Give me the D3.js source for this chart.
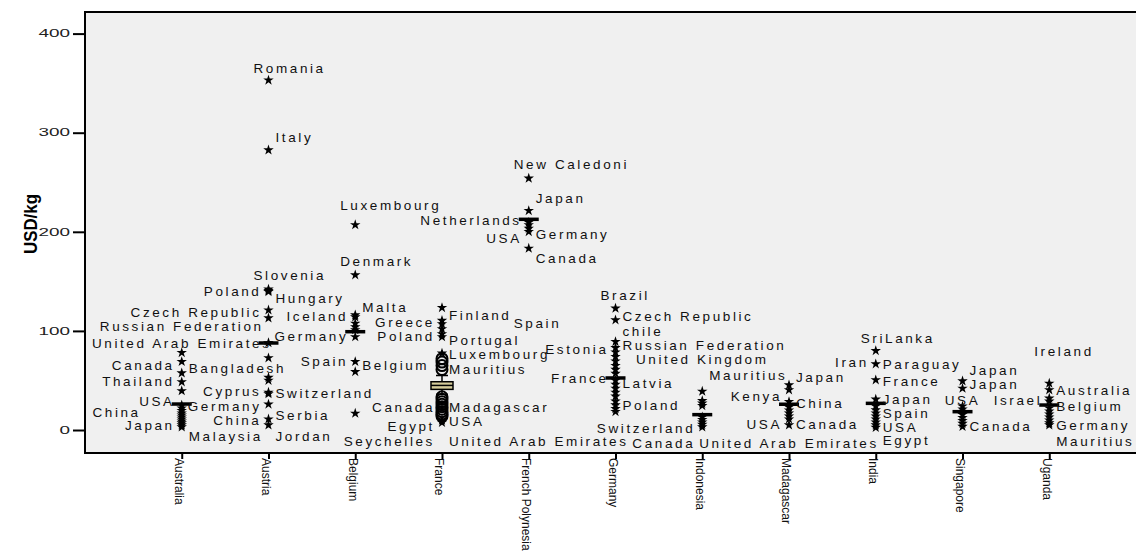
<!DOCTYPE html>
<html><head><meta charset="utf-8">
<script src="https://cdn.jsdelivr.net/npm/d3@7"></script>
<style>body{margin:0;background:#fff} svg{display:block}</style>
</head><body><svg id="c" width="1136" height="552"></svg>
<script>
const categories = ["Australia","Austria","Belgium","France","French Polynesia","Germany","Indonesia","Madagascar","India","Singapore","Uganda"];
const yTicks = [0,100,200,300,400];
const yTitle = "USD/kg";

// box statistics per category
const boxQ1      = [26.2, 87.8, 99.2, 41.0, 212.6, 52.5, 15.5, 26.0, 26.9, 18.5, 25.2];
const boxMedian  = [26.2, 87.8, 99.2, 45.0, 212.6, 52.5, 15.5, 26.0, 26.9, 18.5, 25.2];
const boxQ3      = [26.2, 87.8, 99.2, 48.7, 212.6, 52.5, 15.5, 26.0, 26.9, 18.5, 25.2];
const whiskerLow = [26.2, 87.8, 99.2, 36.0, 212.6, 52.5, 15.5, 26.0, 26.9, 18.5, 25.2];
const whiskerHigh= [26.2, 87.8, 99.2, 55.0, 212.6, 52.5, 15.5, 26.0, 26.9, 18.5, 25.2];

// outliers (circles)
const outliersFrance = [72, 68.5, 65, 61, 33.5, 31, 28.5, 26, 23.5, 21, 18.5, 16, 14];

// extremes (stars) per category
const extAustralia = [78, 69, 57.5, 48.5, 39.5, 25, 22, 19.5, 17, 15, 13, 11, 9, 7, 5, 3];
const extAustria   = [353, 282.5, 142, 140.5, 139.5, 121, 113, 88, 72.7, 53, 50, 38, 36.5, 26, 11, 5];
const extBelgium   = [207, 156.4, 116, 114, 107.6, 104, 101, 94, 69, 58.8, 16.8];
const extFrance    = [123.4, 110.5, 107, 102, 97, 94, 77.4, 10, 7.5];
const extFrPoly    = [254, 221.3, 209.5, 206.9, 203.5, 200.1, 183.3];
const extGermany   = [122.8, 111, 89.1, 83, 78.5, 74, 69.5, 65, 61, 57, 50, 46, 42, 38, 34, 29, 25.2, 21.5, 18.5];
const extIndonesia = [39, 29.5, 27, 24.5, 13, 10.5, 8, 5.5, 3];
const extMadagascar= [45.4, 40.4, 28.6, 23, 20, 17, 14, 11, 5];
const extIndia     = [80, 66.6, 50.5, 31, 24, 20.2, 17, 14, 11, 8, 5, 2.5];
const extSingapore = [49.4, 42, 24, 21, 15.5, 12.5, 9.5, 6.5, 3.5];
const extUganda    = [47.1, 40.4, 32, 29, 22, 19, 16, 13, 10, 7, 5];

// point labels: [text, category, value at label, side]
const pointLabels = [
 ["Russian Federation","Australia",104.2,"C"],
 ["United Arab Emirates","Australia",87.5,"C"],
 ["Canada","Australia",65.6,"L"],
 ["Bangladesh","Australia",62.3,"R"],
 ["Thailand","Australia",48.7,"L"],
 ["USA","Australia",28.6,"L"],
 ["China","Australia",17.8,"LL"],
 ["Japan","Australia",5,"L"],
 ["Malaysia","Australia",-6.7,"R"],
 ["Romania","Austria",365,"T"],
 ["Italy","Austria",295.3,"R"],
 ["Slovenia","Austria",155.7,"T"],
 ["Poland","Austria",139.6,"L"],
 ["Hungary","Austria",132.9,"R"],
 ["Czech Republic","Austria",118.4,"L"],
 ["Cyprus","Austria",38.7,"L"],
 ["Switzerland","Austria",37,"R"],
 ["Germany","Austria",24,"L"],
 ["Serbia","Austria",15.1,"R"],
 ["China","Austria",9.5,"L"],
 ["Jordan","Austria",-6.7,"R"],
 ["Luxembourg","Belgium",227,"T"],
 ["Denmark","Belgium",169.8,"T"],
 ["Malta","Belgium",123.4,"R"],
 ["Iceland","Belgium",115,"L"],
 ["Germany","Belgium",94.9,"L"],
 ["Spain","Belgium",69,"L"],
 ["Belgium","Belgium",65.6,"R"],
 ["Finland","France",116,"R"],
 ["Greece","France",108.3,"L"],
 ["Poland","France",94.9,"L"],
 ["Portugal","France",90.8,"R"],
 ["Luxembourg","France",76.7,"R"],
 ["Mauritius","France",61.3,"R"],
 ["Canada","France",22.5,"L"],
 ["Madagascar","France",22.5,"R"],
 ["USA","France",8.4,"R"],
 ["Egypt","France",3.4,"L"],
 ["Seychelles","France",-11,"L"],
 ["United Arab Emirates","France",-11,"R"],
 ["New Caledoni","French Polynesia",268,"T"],
 ["Japan","French Polynesia",233.8,"R"],
 ["Netherlands","French Polynesia",212,"L"],
 ["Germany","French Polynesia",197.5,"R"],
 ["USA","French Polynesia",193.4,"L"],
 ["Canada","French Polynesia",173.3,"R"],
 ["Spain","French Polynesia",107.6,"T"],
 ["Brazil","Germany",136.2,"T"],
 ["Czech Republic","Germany",114.3,"R"],
 ["chile","Germany",99.2,"R"],
 ["Russian Federation","Germany",85,"R"],
 ["Estonia","Germany",81.4,"L"],
 ["France","Germany",52.2,"L"],
 ["Latvia","Germany",47.1,"R"],
 ["Poland","Germany",25.2,"R"],
 ["United Kingdom","Indonesia",71.3,"C"],
 ["Mauritius","Indonesia",55.5,"R"],
 ["Switzerland","Indonesia",1.7,"L"],
 ["Canada","Indonesia",-13.5,"L"],
 ["Japan","Madagascar",53.2,"R"],
 ["Kenya","Madagascar",33.6,"L"],
 ["China","Madagascar",26.9,"R"],
 ["USA","Madagascar",6,"L"],
 ["Canada","Madagascar",6,"R"],
 ["United Arab Emirates","Madagascar",-13.5,"C"],
 ["SriLanka","India",92.5,"T"],
 ["Iran","India",67.9,"L"],
 ["Paraguay","India",66.3,"R"],
 ["France","India",48.7,"R"],
 ["Japan","India",31,"R"],
 ["Spain","India",16.6,"R"],
 ["USA","India",3,"R"],
 ["Egypt","India",-10.8,"R"],
 ["Japan","Singapore",60.5,"R"],
 ["Japan","Singapore",46.1,"R"],
 ["USA","Singapore",30.3,"C"],
 ["Canada","Singapore",4,"R"],
 ["Ireland","Uganda",79,"T"],
 ["Australia","Uganda",40.4,"R"],
 ["Israel","Uganda",30.3,"L"],
 ["Belgium","Uganda",23.5,"R"],
 ["Germany","Uganda",5,"R"],
 ["Mauritius","Uganda",-11.8,"R"]
];

const extremesByCat = [extAustralia, extAustria, extBelgium, extFrance, extFrPoly, extGermany,
  extIndonesia, extMadagascar, extIndia, extSingapore, extUganda];
const extremes = [];
categories.forEach((c, i) => extremesByCat[i].forEach(v => extremes.push({c, v})));
const outliers = outliersFrance.map(v => ({c: "France", v}));

const svg = d3.select("#c");
const plotL = 85, plotR = 1146, plotT = 12, plotB = 453;
const x = d3.scalePoint().domain(categories).range([plotL, plotR]).padding(1.115);
const y = d3.scaleLinear().domain([-23.2, 421.8]).range([plotB, plotT]);
const FONT = "'Liberation Sans', Arial, sans-serif";

svg.append("rect").attr("x", plotL).attr("y", plotT)
  .attr("width", plotR - plotL).attr("height", plotB - plotT).attr("fill", "#f0f0f0");

// boxes
const boxW = 22;
categories.forEach((c, i) => {
  const cx = x(c);
  if (boxQ3[i] > boxQ1[i]) {
    svg.append("line").attr("x1", cx).attr("x2", cx).attr("y1", y(boxQ3[i])).attr("y2", y(whiskerHigh[i]))
      .attr("stroke", "#000").attr("stroke-width", 1.5);
    svg.append("line").attr("x1", cx).attr("x2", cx).attr("y1", y(boxQ1[i])).attr("y2", y(whiskerLow[i]))
      .attr("stroke", "#000").attr("stroke-width", 1.5);
    [whiskerHigh[i], whiskerLow[i]].forEach(w => svg.append("line")
      .attr("x1", cx - 6).attr("x2", cx + 6).attr("y1", y(w)).attr("y2", y(w))
      .attr("stroke", "#000").attr("stroke-width", 1.5));
    svg.append("rect").attr("x", cx - boxW/2).attr("width", boxW)
      .attr("y", y(boxQ3[i])).attr("height", y(boxQ1[i]) - y(boxQ3[i]))
      .attr("fill", "#d5cc9b").attr("stroke", "#000").attr("stroke-width", 1.5);
    svg.append("line").attr("x1", cx - boxW/2).attr("x2", cx + boxW/2)
      .attr("y1", y(boxMedian[i])).attr("y2", y(boxMedian[i]))
      .attr("stroke", "#000").attr("stroke-width", 1.5);
  } else {
    svg.append("line").attr("x1", cx - 10).attr("x2", cx + 10)
      .attr("y1", y(boxMedian[i])).attr("y2", y(boxMedian[i]))
      .attr("stroke", "#000").attr("stroke-width", 3.5);
  }
});

// outliers
svg.append("g").selectAll("circle").data(outliers).join("circle")
  .attr("cx", d => x(d.c)).attr("cy", d => y(d.v)).attr("r", 5.5)
  .attr("fill", "none").attr("stroke", "#000").attr("stroke-width", 2);

// extremes
const star = d3.symbol().type(d3.symbolStar).size(34);
svg.append("g").selectAll("path").data(extremes).join("path")
  .attr("d", star).attr("transform", d => `translate(${x(d.c)},${y(d.v)})`)
  .attr("fill", "#000");

// labels
const sideOffset = {L: -7, LL: -41, R: 7, T: -15, C: 0};
svg.append("g").selectAll("text").data(pointLabels).join("text")
  .attr("x", d => x(d[1]) + sideOffset[d[3]])
  .attr("y", d => y(d[2])).attr("dy", "0.35em")
  .attr("text-anchor", d => (d[3] === "L" || d[3] === "LL") ? "end" : d[3] === "C" ? "middle" : "start")
  .attr("font-family", FONT).attr("font-size", 13.5).attr("letter-spacing", "2.6px")
  .attr("fill", "#111").text(d => d[0]);

// axes
const yAxis = svg.append("g").attr("transform", `translate(${plotL},0)`)
  .call(d3.axisLeft(y).tickValues(yTicks).tickSize(12).tickPadding(3));
yAxis.select(".domain").remove();
yAxis.selectAll(".tick line").attr("stroke", "#000").attr("stroke-width", 2);
yAxis.selectAll(".tick text").attr("font-family", FONT).attr("font-size", 10).attr("fill", "#222")
  .attr("textLength", function(){ return this.textContent.length * 10.5; })
  .attr("lengthAdjust", "spacingAndGlyphs");

const xAxis = svg.append("g").attr("transform", `translate(0,${plotB})`)
  .call(d3.axisBottom(x).tickSize(6));
xAxis.select(".domain").remove();
xAxis.selectAll(".tick line").attr("stroke", "#000").attr("stroke-width", 2);
xAxis.selectAll(".tick text").attr("transform", "rotate(90)")
  .attr("x", 5).attr("y", 3).attr("dy", "0.35em").attr("text-anchor", "start")
  .attr("font-family", FONT).attr("font-size", 12).attr("fill", "#111");

// frame
svg.append("rect").attr("x", plotL).attr("y", plotT)
  .attr("width", plotR - plotL).attr("height", plotB - plotT)
  .attr("fill", "none").attr("stroke", "#000").attr("stroke-width", 2);

// y title
svg.append("text").attr("transform", "translate(31,224) rotate(-90)")
  .attr("text-anchor", "middle").attr("dy", "0.35em")
  .attr("font-family", FONT).attr("font-weight", "bold").attr("font-size", 18)
  .attr("textLength", 60).attr("lengthAdjust", "spacingAndGlyphs")
  .text(yTitle);
</script></body></html>
